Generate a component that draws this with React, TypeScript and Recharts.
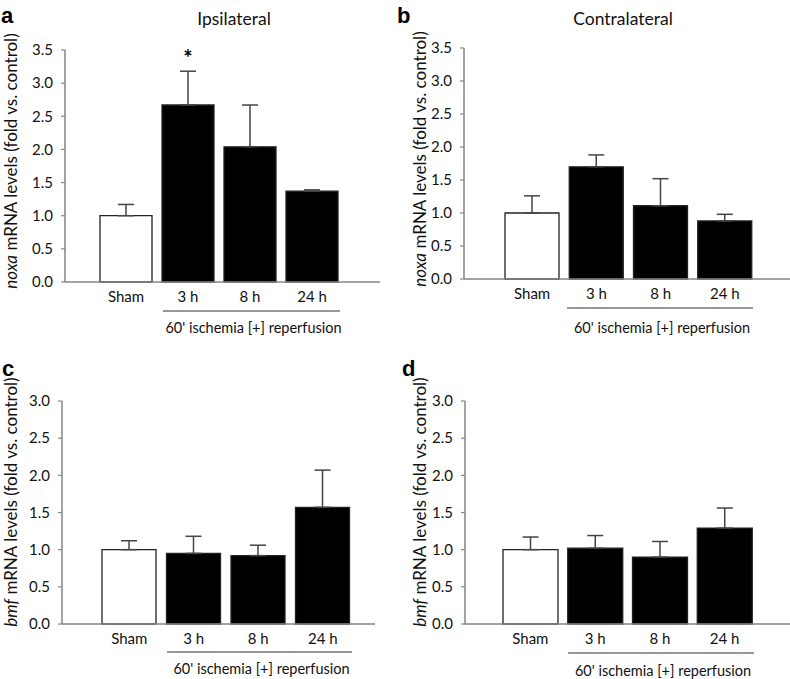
import { BarChart, Bar, XAxis, YAxis, ErrorBar, Cell, ReferenceDot } from "recharts";

const groups = ["Sham", "3 h", "8 h", "24 h"];

// noxa, ipsilateral / contralateral (mean and SEM, fold vs. control)
const noxaIpsi = [1.0, 2.67, 2.04, 1.37];
const noxaIpsiSem = [0.17, 0.51, 0.63, 0.02];
const noxaContra = [1.0, 1.7, 1.11, 0.88];
const noxaContraSem = [0.26, 0.18, 0.41, 0.1];

// bmf, ipsilateral / contralateral
const bmfIpsi = [1.0, 0.95, 0.92, 1.57];
const bmfIpsiSem = [0.12, 0.23, 0.14, 0.5];
const bmfContra = [1.0, 1.02, 0.9, 1.29];
const bmfContraSem = [0.17, 0.17, 0.21, 0.27];

const noxaIpsiSig = ["", "*", "", ""];
const noSig = ["", "", "", ""];

const noxaTicks = [0, 0.5, 1.0, 1.5, 2.0, 2.5, 3.0, 3.5];
const bmfTicks = [0, 0.5, 1.0, 1.5, 2.0, 2.5, 3.0];

const FONT = "Lato, 'Open Sans', sans-serif";
const TEXT = "#111";
const AXIS = "#858585";

function build(values: number[], sem: number[], sig: string[]) {
  return groups.map((g, i) => ({
    group: g,
    value: values[i],
    err: [0, sem[i]],
    top: values[i] + sem[i],
    sig: sig[i],
  }));
}

type PanelProps = {
  left: number;
  top: number;
  width: number;
  height: number;
  axisX: number;
  plotTop: number;
  plotBottom: number;
  plotRight: number;
  padL: number;
  padR: number;
  barSize: number;
  data: ReturnType<typeof build>;
  ticks: number[];
};

function Panel(p: PanelProps) {
  const max = p.ticks[p.ticks.length - 1];
  return (
    <BarChart
      width={p.width}
      height={p.height}
      data={p.data}
      margin={{ top: p.plotTop, right: p.width - p.plotRight, bottom: 0, left: 0 }}
      style={{ position: "absolute", left: p.left, top: p.top }}
    >
      <XAxis
        dataKey="group"
        height={p.height - p.plotBottom}
        padding={{ left: p.padL, right: p.padR }}
        tickLine={false}
        axisLine={{ stroke: AXIS, strokeWidth: 1.5 }}
        tick={{ fill: TEXT, fontSize: 15, fontFamily: FONT }}
        tickMargin={3}
      />
      <YAxis
        width={p.axisX}
        domain={[0, max]}
        ticks={p.ticks}
        interval={0}
        tickFormatter={(v: number) => v.toFixed(1)}
        axisLine={{ stroke: AXIS, strokeWidth: 1.5 }}
        tickLine={{ stroke: AXIS, strokeWidth: 1.2 }}
        tickSize={4}
        tickMargin={8}
        tick={{ fill: TEXT, fontSize: 15, fontFamily: FONT }}
      />
      <Bar dataKey="value" barSize={p.barSize} isAnimationActive={false} stroke="#222" strokeWidth={1.3}>
        {p.data.map((d, i) => (
          <Cell key={d.group} fill={i === 0 ? "#ffffff" : "#000000"} />
        ))}
        <ErrorBar dataKey="err" width={8} stroke="#444" strokeWidth={1.5} isAnimationActive={false} />
      </Bar>
      {p.data
        .filter((d) => d.sig)
        .map((d) => (
          <ReferenceDot
            key={"sig" + d.group}
            x={d.group}
            y={d.top + 0.2}
            r={0}
            fill="none"
            stroke="none"
            ifOverflow="visible"
            label={{ value: d.sig, position: "center", fill: "#000", fontSize: 22, fontWeight: 700, fontFamily: FONT }}
          />
        ))}
    </BarChart>
  );
}

function YLabel({ x, y, gene }: { x: number; y: number; gene: string }) {
  return (
    <text
      transform={`translate(${x},${y}) rotate(-90)`}
      textAnchor="middle"
      dominantBaseline="central"
      fontSize={17}
      fontFamily={FONT}
      fill={TEXT}
    >
      <tspan fontStyle="italic">{gene}</tspan> mRNA levels (fold vs. control)
    </text>
  );
}

function Group({ x1, x2, y, ty }: { x1: number; x2: number; y: number; ty: number }) {
  return (
    <g>
      <line x1={x1} x2={x2} y1={y} y2={y} stroke="#333" strokeWidth={1.2} />
      <text x={(x1 + x2) / 2 + 2} y={ty} textAnchor="middle" dominantBaseline="central" fontSize={14.5} fontFamily={FONT} fill={TEXT}>
        60' ischemia [+] reperfusion
      </text>
    </g>
  );
}

export default function App() {
  const letter = { fontSize: 22, fontWeight: 700, fontFamily: "Arial, 'Liberation Sans', sans-serif", fill: "#000" };
  const title = { fontSize: 17.5, fontFamily: FONT, fill: TEXT, textAnchor: "middle" as const };
  return (
    <div style={{ position: "absolute", left: 0, top: 0, width: 790, height: 679, background: "#fff" }}>
      <Panel
        left={0} top={0} width={395} height={340}
        axisX={65} plotTop={50} plotBottom={282} plotRight={380}
        padL={30} padR={37} barSize={52}
        data={build(noxaIpsi, noxaIpsiSem, noxaIpsiSig)} ticks={noxaTicks}
      />
      <Panel
        left={395} top={0} width={395} height={340}
        axisX={69} plotTop={48} plotBottom={279} plotRight={395}
        padL={36} padR={33} barSize={54}
        data={build(noxaContra, noxaContraSem, noSig)} ticks={noxaTicks}
      />
      <Panel
        left={0} top={340} width={395} height={339}
        axisX={62} plotTop={61} plotBottom={284} plotRight={375}
        padL={35} padR={20} barSize={54}
        data={build(bmfIpsi, bmfIpsiSem, noSig)} ticks={bmfTicks}
      />
      <Panel
        left={395} top={340} width={395} height={339}
        axisX={70} plotTop={61} plotBottom={284} plotRight={395}
        padL={33} padR={33} barSize={55}
        data={build(bmfContra, bmfContraSem, noSig)} ticks={bmfTicks}
      />
      <svg width={790} height={679} style={{ position: "absolute", left: 0, top: 0, pointerEvents: "none" }}>
        <text x={1} y={23} {...letter}>a</text>
        <text x={397} y={23} {...letter}>b</text>
        <text x={2} y={376} {...letter}>c</text>
        <text x={402} y={376} {...letter}>d</text>
        <text x={234} y={25} {...title}>Ipsilateral</text>
        <text x={623} y={25} {...title}>Contralateral</text>
        <YLabel x={10} y={161} gene="noxa" />
        <YLabel x={419} y={159} gene="noxa" />
        <YLabel x={10} y={502} gene="bmf" />
        <YLabel x={419} y={502} gene="bmf" />
        <Group x1={163} x2={340} y={311} ty={327} />
        <Group x1={567} x2={753} y={308} ty={327} />
        <Group x1={167} x2={352} y={652} ty={668} />
        <Group x1={568} x2={754} y={653} ty={670} />
      </svg>
    </div>
  );
}
